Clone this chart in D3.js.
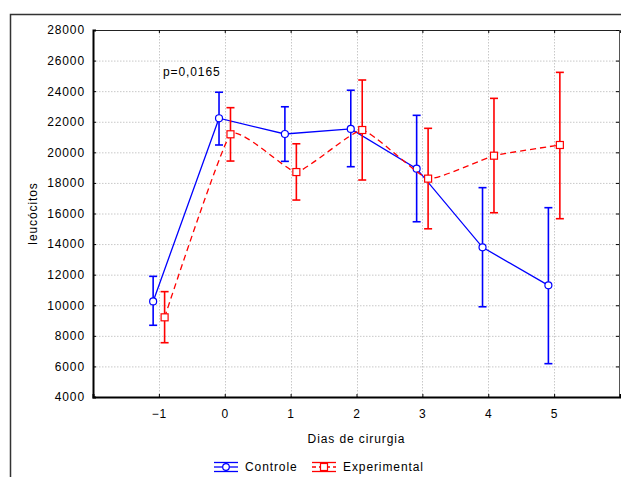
<!DOCTYPE html>
<html>
<head>
<meta charset="utf-8">
<script src="https://cdn.jsdelivr.net/npm/d3@7"></script>
<style>
  body { margin: 0; background: #fff; }
  text { font-family: "Liberation Sans", Arial, sans-serif; font-size: 12px; letter-spacing: 0.9px; fill: #000; }
</style>
</head>
<body>
<div id="chart"></div>
<script>
// days after surgery
var days = [-1, 0, 1, 2, 3, 4, 5];

// Controle group: mean and error bar limits
var controleMean = [10250, 22230, 21200, 21530, 18930, 13790, 11300];
var controleHigh = [11890, 23930, 22980, 24060, 22420, 17690, 16380];
var controleLow  = [8690, 20480, 19410, 19060, 15460, 9900, 6180];

// Experimental group
var expMean = [9210, 21180, 18710, 21460, 18280, 19780, 20480];
var expHigh = [10890, 22920, 20560, 24730, 21570, 23530, 25230];
var expLow  = [7550, 19430, 16880, 18190, 15000, 16050, 15660];

var yTicks = [4000, 6000, 8000, 10000, 12000, 14000, 16000, 18000, 20000, 22000, 24000, 26000, 28000];

var svgWidth = 621, svgHeight = 477;
var margin = { top: 30, right: 1, bottom: 80, left: 93 };
var width = svgWidth - margin.left - margin.right;
var height = 397 - margin.top;

var svg = d3.select("#chart").append("svg")
    .attr("width", svgWidth)
    .attr("height", svgHeight);

// outer frame (runs off the right and bottom like the original)
svg.append("rect")
    .attr("x", 10.5).attr("y", 14.5)
    .attr("width", 700).attr("height", 600)
    .attr("fill", "none")
    .attr("stroke", "#333")
    .attr("stroke-width", 1.5);

var chartGroup = svg.append("g")
    .attr("transform", `translate(${margin.left}, ${margin.top})`);

var xScale = d3.scaleLinear().domain([-2, 6]).range([0, width]);
var yScale = d3.scaleLinear().domain([4000, 28000]).range([height, 0]);

// grid
chartGroup.append("g")
    .selectAll("line")
    .data(yTicks.slice(1, -1))
    .enter().append("line")
    .attr("x1", 0).attr("x2", width)
    .attr("y1", d => yScale(d) + 0.5).attr("y2", d => yScale(d) + 0.5)
    .attr("stroke", "#c8c8c8")
    .attr("stroke-dasharray", "1.5,1.5");
chartGroup.append("g")
    .selectAll("line")
    .data(days)
    .enter().append("line")
    .attr("y1", 0).attr("y2", height)
    .attr("x1", d => Math.round(xScale(d)) + 0.5).attr("x2", d => Math.round(xScale(d)) + 0.5)
    .attr("stroke", "#c8c8c8")
    .attr("stroke-dasharray", "1.5,1.5");

// axes (ticks pointing inward)
var leftAxis = d3.axisLeft(yScale).tickValues(yTicks).tickSize(-3).tickPadding(8).tickFormat(d3.format("d"));
var bottomAxis = d3.axisBottom(xScale).tickValues(days).tickSize(-3).tickPadding(12).tickFormat(d3.format("d"));
var topAxis = d3.axisTop(xScale).tickValues(days).tickSize(-3).tickFormat("");
var rightAxis = d3.axisRight(yScale).tickValues(yTicks).tickSize(-3).tickFormat("");

chartGroup.append("g").call(topAxis)
    .call(g => g.select(".domain").attr("stroke", "#222"));
chartGroup.append("g").attr("transform", `translate(${width - 1}, 0)`).call(rightAxis)
    .call(g => g.select(".domain").attr("stroke", "#555"));

var gy = chartGroup.append("g").call(leftAxis);
gy.select(".domain").attr("stroke-width", 2);
gy.selectAll("text").style("font-size", "12px").attr("fill", "#000");

var gx = chartGroup.append("g").attr("transform", `translate(0, ${height})`).call(bottomAxis);
gx.select(".domain").attr("stroke-width", 2);
gx.selectAll("text").style("font-size", "12px").attr("fill", "#000");

// axis titles
svg.append("text")
    .attr("x", margin.left + width / 2)
    .attr("y", 443)
    .attr("text-anchor", "middle")
    .text("Dias de cirurgia");
svg.append("text")
    .attr("transform", "rotate(-90)")
    .attr("x", -(margin.top + height / 2))
    .attr("y", 37)
    .attr("text-anchor", "middle")
    .text("leucócitos");

svg.append("text").attr("x", 163).attr("y", 76).text("p=0,0165");

// series
function drawSeries(mean, high, low, color, offset, dashed, marker) {
    var pts = days.map((d, i) => ({ x: d + offset, m: mean[i], h: high[i], l: low[i] }));
    var line = d3.line()
        .x(p => xScale(p.x))
        .y(p => yScale(p.m))
        .curve(dashed ? d3.curveCardinal.tension(0.6) : d3.curveLinear);
    chartGroup.append("path")
        .datum(pts)
        .attr("d", line)
        .attr("fill", "none")
        .attr("stroke", color)
        .attr("stroke-width", 1.3)
        .attr("stroke-dasharray", dashed ? "6,4" : null);

    var bars = chartGroup.append("g").selectAll("g").data(pts).enter().append("g");
    bars.append("line")
        .attr("x1", p => xScale(p.x)).attr("x2", p => xScale(p.x))
        .attr("y1", p => yScale(p.h)).attr("y2", p => yScale(p.l))
        .attr("stroke", color).attr("stroke-width", 1.6);
    bars.append("line")
        .attr("x1", p => xScale(p.x) - 4).attr("x2", p => xScale(p.x) + 4)
        .attr("y1", p => yScale(p.h)).attr("y2", p => yScale(p.h))
        .attr("stroke", color).attr("stroke-width", 1.6);
    bars.append("line")
        .attr("x1", p => xScale(p.x) - 4).attr("x2", p => xScale(p.x) + 4)
        .attr("y1", p => yScale(p.l)).attr("y2", p => yScale(p.l))
        .attr("stroke", color).attr("stroke-width", 1.6);

    if (marker === "circle") {
        bars.append("circle")
            .attr("cx", p => xScale(p.x)).attr("cy", p => yScale(p.m))
            .attr("r", 3.5)
            .attr("fill", "white").attr("stroke", color).attr("stroke-width", 1.2);
    } else {
        bars.append("rect")
            .attr("x", p => xScale(p.x) - 3.5).attr("y", p => yScale(p.m) - 3.5)
            .attr("width", 7).attr("height", 7)
            .attr("fill", "white").attr("stroke", color).attr("stroke-width", 1.2);
    }
}

drawSeries(controleMean, controleHigh, controleLow, "#0000ff", -0.087, false, "circle");
drawSeries(expMean, expHigh, expLow, "#ff0000", 0.087, true, "square");

// legend
function legendItem(x, color, dashed, marker, label) {
    var g = svg.append("g").attr("transform", `translate(${x}, 467)`);
    g.append("line").attr("x1", 0).attr("x2", 24).attr("y1", -4.5).attr("y2", -4.5).attr("stroke", color).attr("stroke-width", 1.3);
    g.append("line").attr("x1", 0).attr("x2", 24).attr("y1", 4.5).attr("y2", 4.5).attr("stroke", color).attr("stroke-width", 1.3);
    g.append("line").attr("x1", 0).attr("x2", 24).attr("y1", 0).attr("y2", 0).attr("stroke", color).attr("stroke-width", 1.3)
        .attr("stroke-dasharray", dashed ? "4,3" : null);
    g.append("line").attr("x1", 12).attr("x2", 12).attr("y1", -4.5).attr("y2", 4.5).attr("stroke", color).attr("stroke-width", 1.3);
    if (marker === "circle") {
        g.append("circle").attr("cx", 12).attr("cy", 0).attr("r", 3.3).attr("fill", "white").attr("stroke", color).attr("stroke-width", 1.2);
    } else {
        g.append("rect").attr("x", 8.5).attr("y", -3.5).attr("width", 7).attr("height", 7).attr("fill", "white").attr("stroke", color).attr("stroke-width", 1.2);
    }
    g.append("text").attr("x", 31).attr("y", 4).text(label);
}
legendItem(214, "#0000ff", false, "circle", "Controle");
legendItem(312, "#ff0000", true, "square", "Experimental");
</script>
</body>
</html>
